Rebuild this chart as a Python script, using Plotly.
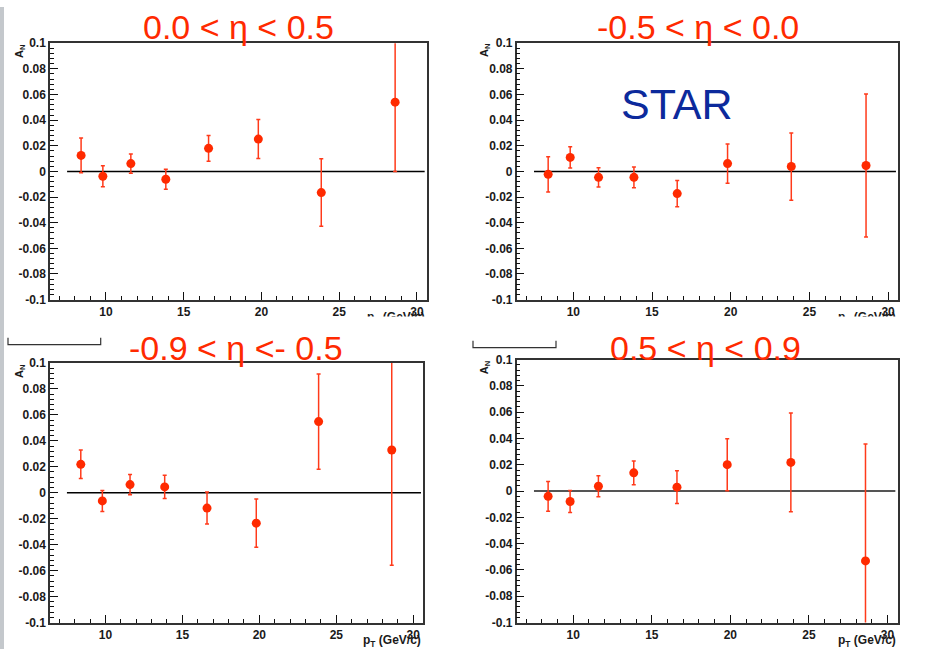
import plotly.graph_objects as go

# ---------------- data ----------------
pt = [8.4, 9.8, 11.6, 13.85, 16.6, 19.8, 23.85, 28.6]

an_1 = [0.0125, -0.0038, 0.0061, -0.0061, 0.018, 0.0252, -0.0165, 0.054]
err_1 = [0.0136, 0.0082, 0.0075, 0.0078, 0.010, 0.0152, 0.0263, 0.054]

an_2 = [-0.0023, 0.0109, -0.0046, -0.0046, -0.0173, 0.0061, 0.0038, 0.0046]
err_2 = [0.0137, 0.0083, 0.0075, 0.0081, 0.0102, 0.0153, 0.0262, 0.0558]

an_3 = [0.0219, -0.0063, 0.0063, 0.0045, -0.0118, -0.0234, 0.0548, 0.0329]
err_3 = [0.011, 0.0081, 0.0078, 0.009, 0.0123, 0.0186, 0.0367, 0.0887]

an_4 = [-0.004, -0.0079, 0.0037, 0.0139, 0.003, 0.0201, 0.0218, -0.0531]
err_4 = [0.0113, 0.0083, 0.008, 0.009, 0.0124, 0.0198, 0.0375, 0.089]

titles = ["0.0 < η < 0.5", "-0.5 < η < 0.0", "-0.9 < η <- 0.5", "0.5 < η < 0.9"]

x_ticks = [10, 15, 20, 25, 30]
y_ticks = [-0.1, -0.08, -0.06, -0.04, -0.02, 0, 0.02, 0.04, 0.06, 0.08, 0.1]
y_labels = ["-0.1", "-0.08", "-0.06", "-0.04", "-0.02", "0", "0.02", "0.04", "0.06", "0.08", "0.1"]
zero_line_x = [7.5, 30.5]

# ---------------- layout helpers ----------------
W, H = 932, 656
def px(x):
    return x / W
def py(y):
    return 1 - y / H

panels = [
    # (x0, x1, ytop, ybottom) in pixels
    (50, 427, 37, 299),
    (516.7, 898.3, 37, 299),
    (50, 423.3, 363.7, 629),
    (516.7, 897.7, 360.3, 629),
]
title_pos = [(238, 20), (698, 20), (236, 348), (705, 348)]
an_pos = [(20, 45), (485, 44), (20, 372), (485, 368)]
zero_colors = ["#000000", "#000000", "#000000", "#555555"]

series = [(an_1, err_1), (an_2, err_2), (an_3, err_3), (an_4, err_4)]

RED = "#ff2a00"
fig = go.Figure()
annotations = []
shapes = []

tickfont = dict(family="Liberation Sans, Arial, sans-serif", size=12, color="#1a1a1a", weight="bold")

for i, ((an, er), (x0, x1, yt, yb)) in enumerate(zip(series, panels)):
    k = "" if i == 0 else str(i + 1)
    fig.add_trace(go.Scatter(
        x=pt, y=an,
        mode="markers",
        marker=dict(color=RED, size=9, line=dict(width=0)),
        error_y=dict(type="data", array=er, visible=True, color="#ff3a1a", thickness=1.5, width=2),
        xaxis="x" + k, yaxis="y" + k,
        showlegend=False, hoverinfo="x+y",
    ))
    fig.update_layout(**{
        "xaxis" + k: dict(
            domain=[px(x0), px(x1)], anchor="y" + k,
            range=[6.4, 30.65], tickvals=x_ticks, ticks="inside", ticklen=8, tickwidth=1,
            tickcolor="#111", showgrid=False, zeroline=False, showline=True, mirror=True,
            linecolor="#333", linewidth=1.5, tickfont=tickfont,
            minor=dict(dtick=1, tick0=0, ticks="inside", ticklen=4, tickcolor="#111", showgrid=False),
        ),
        "yaxis" + k: dict(
            domain=[py(yb), py(yt)], anchor="x" + k,
            range=[-0.1, 0.1], tickvals=y_ticks, ticktext=y_labels, ticks="inside", ticklen=8,
            tickwidth=1, tickcolor="#111", showgrid=False, zeroline=False, showline=True,
            mirror=True, linecolor="#333", linewidth=1.5, tickfont=tickfont,
            minor=dict(dtick=0.004, tick0=0, ticks="inside", ticklen=4, tickcolor="#111", showgrid=False),
        ),
    })
    shapes.append(dict(type="line", xref="x" + k, yref="y" + k,
                       x0=zero_line_x[0], x1=zero_line_x[1], y0=0, y1=0,
                       line=dict(color=zero_colors[i], width=1.5 if i < 3 else 2), layer="below"))
    tx, ty = title_pos[i]
    annotations.append(dict(text=titles[i], xref="paper", yref="paper", x=px(tx), y=py(ty),
                            xanchor="center", yanchor="middle", showarrow=False,
                            font=dict(family="Liberation Sans, Arial, sans-serif", size=34, color=RED)))
    ax_, ay_ = an_pos[i]
    annotations.append(dict(text="<b>A<sub>N</sub></b>", xref="paper", yref="paper", x=px(ax_), y=py(ay_),
                            xanchor="center", yanchor="middle", textangle=-90, showarrow=False,
                            font=dict(family="Liberation Sans, Arial, sans-serif", size=11, color="#1a1a1a")))
    # x-axis title
    ty_title = yb + 19
    annotations.append(dict(text="<b>p<sub>T</sub> (GeV/c)</b>", xref="paper", yref="paper",
                            x=px(x1), y=py(ty_title), xanchor="right", yanchor="middle", showarrow=False,
                            font=dict(family="Liberation Sans, Arial, sans-serif", size=12, color="#1a1a1a")))

# white cover cutting off the top x-axis titles
annotations.append(dict(text=" ", xref="paper", yref="paper", x=px(5), y=py(316),
                        xanchor="left", yanchor="top", showarrow=False, width=W - 5, height=16,
                        bgcolor="white", borderpad=0, font=dict(size=8)))

# STAR label
annotations.append(dict(text="STAR", xref="paper", yref="paper", x=px(677), y=py(99),
                        xanchor="center", yanchor="middle", showarrow=False,
                        font=dict(family="Liberation Sans, Arial, sans-serif", size=43, color="#0c2a9c")))

# left gray strip
shapes.append(dict(type="rect", xref="paper", yref="paper", x0=0, x1=px(4), y0=0, y1=1,
                   fillcolor="#c4c8cc", line=dict(width=0), layer="below"))
# cut legend-box remnants
shapes.append(dict(type="path", xref="paper", yref="paper",
                   path=f"M {px(8)} {py(338)} L {px(8)} {py(345)} L {px(100.7)} {py(345)} L {px(100.7)} {py(338)}",
                   line=dict(color="#333", width=1.2)))
shapes.append(dict(type="path", xref="paper", yref="paper",
                   path=f"M {px(473)} {py(341)} L {px(473)} {py(348)} L {px(556)} {py(348)} L {px(556)} {py(341)}",
                   line=dict(color="#333", width=1.2)))

fig.update_layout(
    width=W, height=H, autosize=False,
    margin=dict(l=0, r=0, t=0, b=0),
    paper_bgcolor="white", plot_bgcolor="white",
    showlegend=False,
    annotations=annotations, shapes=shapes,
)

fig.write_html("out.html", config={"displayModeBar": False},
               post_script="document.body.style.margin='0';document.body.style.padding='0';"
                           "document.documentElement.style.overflow='hidden';")
